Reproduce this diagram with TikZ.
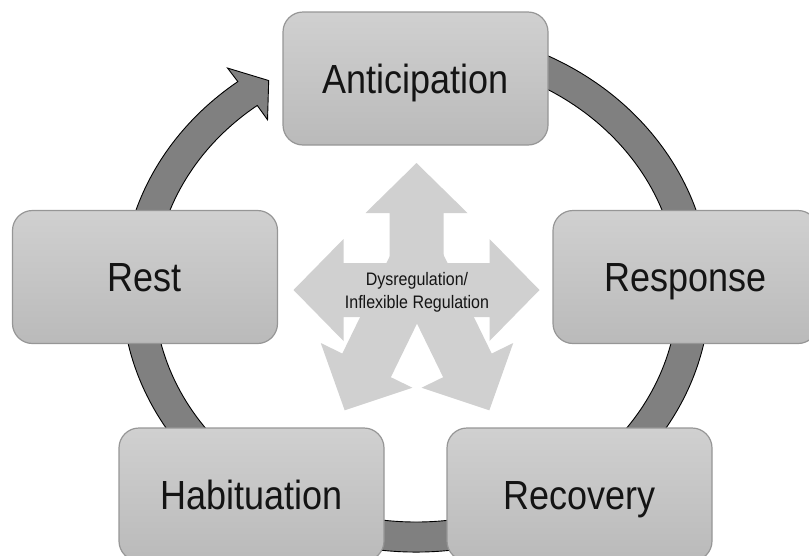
\documentclass[tikz,border=0pt]{standalone}
\usepackage{fontspec}
\setmainfont{Liberation Sans}
\usepackage{graphicx}
\usepackage{tikz}
\definecolor{BoxTop}{RGB}{208,208,208}
\definecolor{BoxBottom}{RGB}{186,186,186}
\definecolor{BoxEdge}{RGB}{150,150,150}
\definecolor{RingGray}{RGB}{128,128,128}
\definecolor{HubGray}{RGB}{208,208,208}
\definecolor{LabelInk}{RGB}{20,20,20}
\tikzset{StageBox/.style={%
    shape=rectangle,%
    rounded corners=20pt,%
    draw=BoxEdge,%
    line width=1.2pt,%
    top color=BoxTop,%
    bottom color=BoxBottom,%
    minimum width=265pt,%
    minimum height=133pt,%
    text=LabelInk,%
    text height=29pt,%
    text depth=0pt,%
    font=\fontsize{36}{40}\selectfont,%
}}
\tikzset{HubLabel/.style={%
    align=center,%
    text=LabelInk,%
    inner sep=0pt,%
    font=\fontsize{16}{23}\selectfont,%
}}
\tikzset{CycleRing/.style={%
    fill=RingGray,%
    draw=black,%
    line width=0.9pt,%
}}
\tikzset{HubArrow/.style={%
    fill=HubGray,%
    draw=none,%
}}
\newcommand{\stretchText}[1]{\scalebox{1}[1.13]{#1}}

\begin{document}
\begin{tikzpicture}[x=1pt,y=-1pt]
    \useasboundingbox (0,0) rectangle (809,555);
    \clip (0,0) rectangle (809,555);

    \foreach \ang/\ox/\oy/\shaft in {90/416.5/290/77, 180/416.5/290/73, 0/416.5/290/73, 244/417/262/115, 296/417/262/115}{
        \fill[HubArrow, shift={(\ox,\oy)}, rotate=\ang]
            (0,-27) -- (\shaft,-27) -- (\shaft,-51) -- ({\shaft+50},0)
            -- (\shaft,51) -- (\shaft,27) -- (0,27) -- cycle;
    }
    \node[HubLabel] (Dysregulation) at (417,292)
        {\stretchText{Dysregulation/}\\\stretchText{Inflexible Regulation}};

    \begin{scope}[shift={(416,290)}]
        \coordinate (RingStart) at (-75:294 and 262);
        \path[CycleRing] (RingStart)
            arc[start angle=-75, end angle=232.7, x radius=294, y radius=262]
            -- (232.7:311 and 279) -- (238:278 and 247) -- (232.7:245 and 214)
            -- (232.7:262 and 232)
            arc[start angle=232.7, end angle=-75, x radius=262, y radius=232]
            -- cycle;
    \end{scope}

    \node[StageBox] (Anticipation) at (415.5,78.5) {\stretchText{Anticipation}};
    \node[StageBox] (Response) at (685.5,277) {\stretchText{Response}};
    \node[StageBox] (Recovery) at (579.5,494.5) {\stretchText{Recovery}};
    \node[StageBox] (Habituation) at (251.5,494.5) {\stretchText{Habituation}};
    \node[StageBox] (Rest) at (145,277) {\stretchText{Rest}};
\end{tikzpicture}
\end{document}
